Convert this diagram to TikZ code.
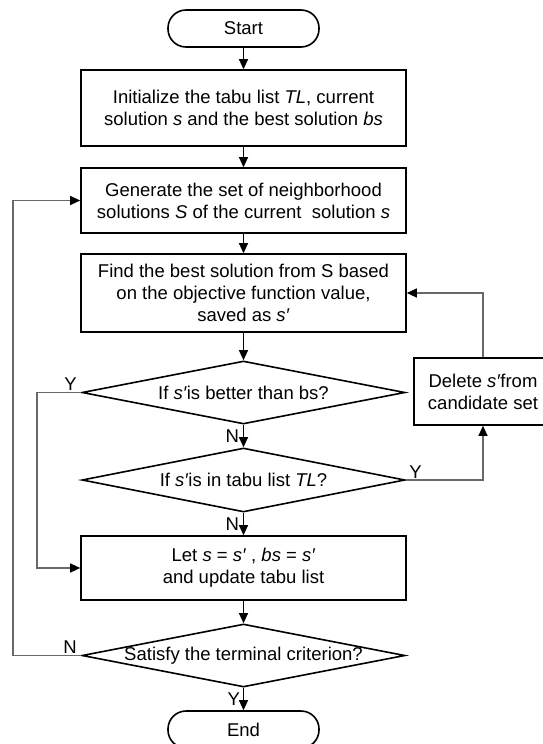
\documentclass[tikz,border=0pt]{standalone}
\usepackage{fontspec}
\setmainfont{Liberation Sans}
\usetikzlibrary{shapes.geometric,arrows.meta}
\definecolor{loopgray}{RGB}{105,105,105}
\tikzset{
  >={Triangle[length=10pt,width=9pt]},
  terminal/.style={draw, line width=1.6pt, rounded corners=18pt, minimum width=151pt, minimum height=37pt, inner sep=0pt},
  flowbox/.style={draw, line width=1.6pt, minimum width=325pt, align=center, inner sep=2pt},
  decision/.style={draw, diamond, line width=1.6pt, minimum width=323pt, minimum height=63pt, inner sep=0pt},
  flow/.style={->, line width=1.1pt},
  loopline/.style={-{Triangle[length=10pt,width=9pt,color=black]}, line width=1.1pt, draw=loopgray},
  tag/.style={inner sep=1pt}
}
\begin{document}
\begin{tikzpicture}[x=1pt, y=-1pt, font=\fontsize{18.5}{22}\selectfont]
  \clip (0,0) rectangle (543,744);

  % Main column of steps
  \node[terminal] (start) at (243.5,28.5) {Start};
  \node[flowbox, minimum height=76pt] (init) at (243.5,108)
    {Initialize the tabu list \textit{TL}, current\\solution \textit{s} and the best solution \textit{bs}};
  \node[flowbox, minimum height=65pt] (gen) at (243.5,200.5)
    {Generate the set of neighborhood\\solutions \textit{S} of the current\ \ solution \textit{s}};
  \node[flowbox, minimum height=78pt] (find) at (243.5,293)
    {Find the best solution from S based\\on the objective function value,\\saved as \textit{s′}};

  % Decisions
  \node[decision, label=center:{If \textit{s′}is better than bs?}] (better) at (243.5,392.5) {};
  \node[decision, minimum height=64pt, label=center:{If \textit{s′}is in tabu list \textit{TL}?}] (intabu) at (243.5,480) {};

  \node[flowbox, minimum height=64pt] (update) at (243.5,568)
    {Let \textit{s} = \textit{s′} , \textit{bs} = \textit{s′}\\and update tabu list};
  \node[decision, label=center:{Satisfy the terminal criterion?}] (stop) at (243.5,655.5) {};
  \node[terminal] (end) at (243.5,729.5) {End};

  % Side box
  \node[flowbox, minimum width=138pt, minimum height=67pt] (delete) at (483,391.5)
    {Delete \textit{s′}from\\candidate set};

  % Arrows down the column
  \draw[flow] (start) -- (init);
  \draw[flow] (init) -- (gen);
  \draw[flow] (gen) -- (find);
  \draw[flow] (find) -- (better);
  \draw[flow] (better) -- node[left, tag, xshift=-3pt] {N} (intabu);
  \draw[flow] (intabu) -- node[left, tag, xshift=-3pt] {N} (update);
  \draw[flow] (update) -- (stop);
  \draw[flow] (stop) -- node[left, tag, xshift=-2pt] {Y} (end);

  % Loops back
  \coordinate (yturn) at (37,392.5);
  \coordinate (nturn) at (13,655.5);
  \draw[loopline] (better.west) node[anchor=south east, tag, xshift=-3pt] {Y} -- (yturn) |- (update.west);
  \draw[loopline] (stop.west) node[anchor=south east, tag, xshift=-3pt] {N} -- (nturn) |- (gen.west);
  \draw[loopline] (intabu.east) node[anchor=south west, tag, xshift=2pt] {Y} -| (delete.south);
  \draw[loopline] (delete.north) |- (find.east);
\end{tikzpicture}
\end{document}
